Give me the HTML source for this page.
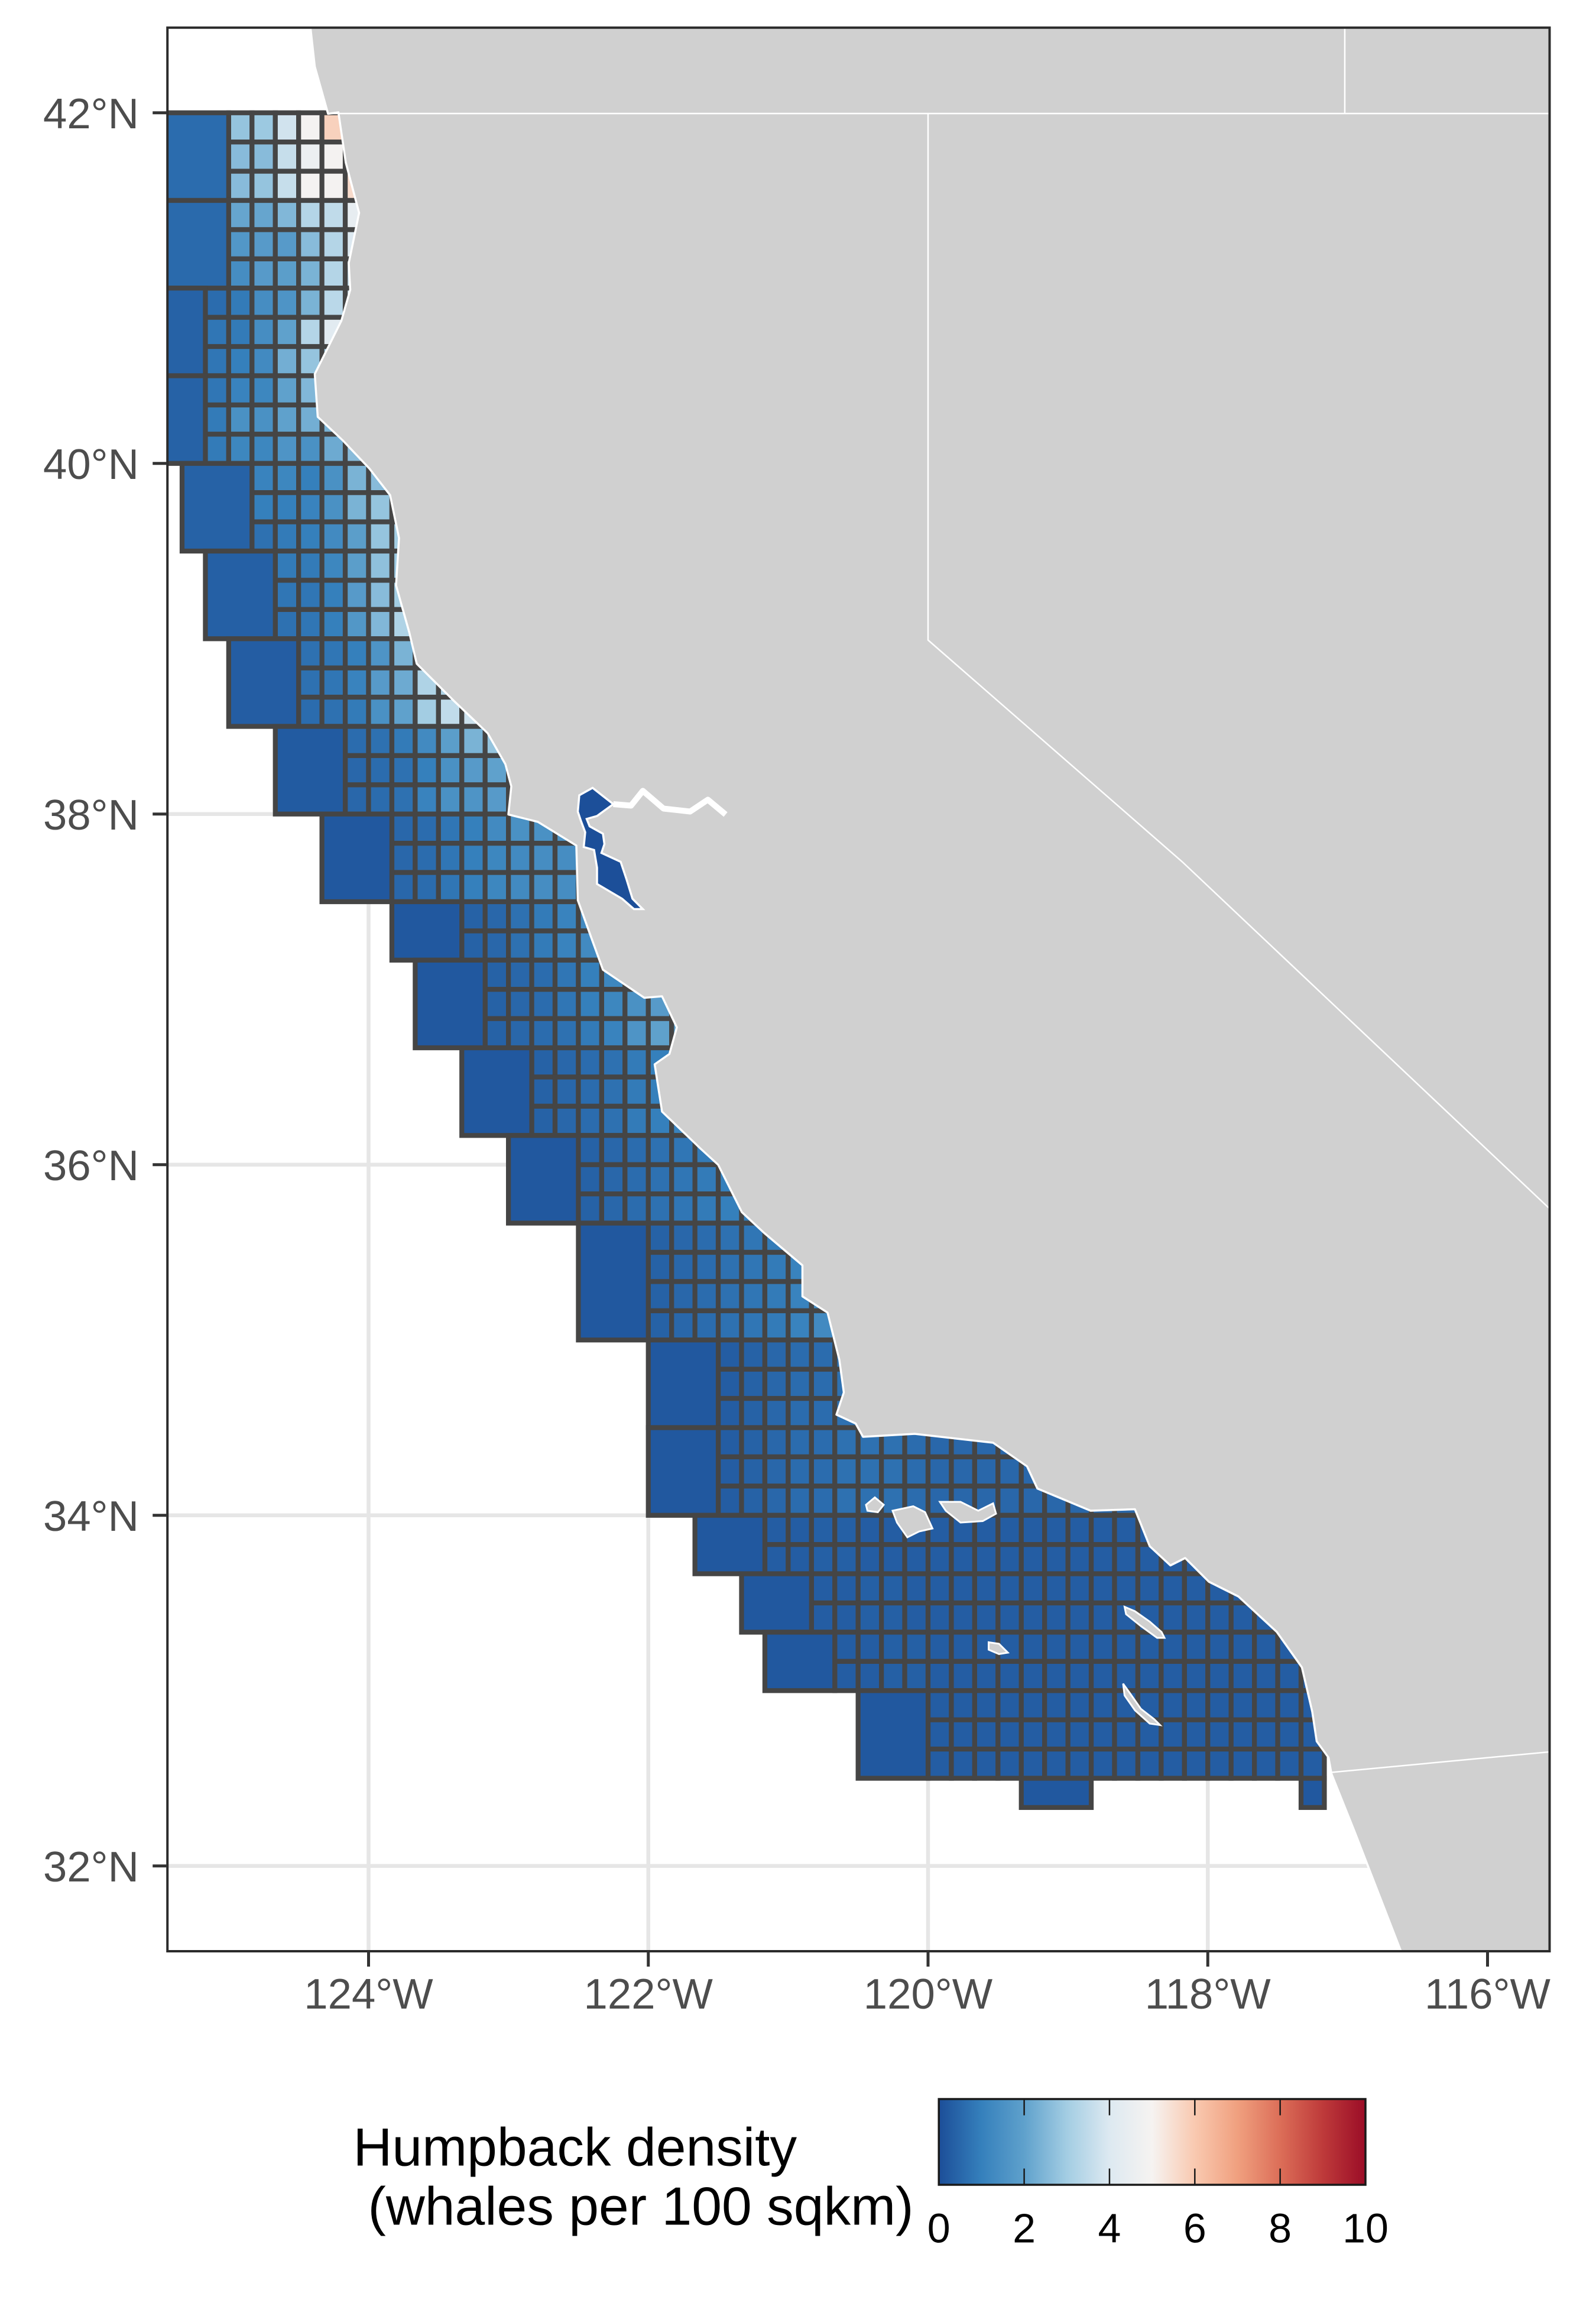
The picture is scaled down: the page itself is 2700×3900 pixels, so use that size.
<!DOCTYPE html>
<html><head><meta charset="utf-8">
<style>
html,body{margin:0;padding:0;background:#fff;}
svg{display:block;}
text{font-family:"Liberation Sans",Arial,sans-serif;}
</style></head>
<body>
<svg id="chart" xmlns="http://www.w3.org/2000/svg" width="2700" height="3900" viewBox="0 0 1080 1560">
<defs>
<clipPath id="panelClip"><rect x="113.3" y="18.7" width="935.3" height="1301.3"/></clipPath>
<linearGradient id="cbGrad" x1="0" x2="1" y1="0" y2="0">
<stop offset="0" stop-color="#1c4e98"/><stop offset="0.1" stop-color="#3580bc"/><stop offset="0.2" stop-color="#5fa1cc"/>
<stop offset="0.3" stop-color="#a3cde3"/><stop offset="0.4" stop-color="#dde9f1"/><stop offset="0.5" stop-color="#f6f3f1"/>
<stop offset="0.6" stop-color="#f9c9b0"/><stop offset="0.7" stop-color="#f0a07f"/><stop offset="0.8" stop-color="#dc6e58"/>
<stop offset="0.9" stop-color="#be3a3a"/><stop offset="1" stop-color="#9b0d27"/>
</linearGradient>
</defs>
<g id="grid" clip-path="url(#panelClip)"></g>
<g id="cells" clip-path="url(#panelClip)"></g>
<g id="land" clip-path="url(#panelClip)"></g>
<rect x="113.3" y="18.7" width="935.3" height="1301.3" fill="none" stroke="#2b2b2b" stroke-width="1.6"/>
<g id="axes"></g>
<g id="legend">
<text x="239" y="1465" font-size="36.5" fill="#000">Humpback density</text>
<text x="249" y="1505" font-size="36.5" fill="#000">(whales per 100 sqkm)</text>
<rect x="635.3" y="1420" width="288.7" height="58" fill="url(#cbGrad)" stroke="#1a1a1a" stroke-width="1.4"/>
</g>
</svg>
<script>
// ---- data ----
const lonTicks = [-124, -122, -120, -118, -116];
const latTicks = [32, 34, 36, 38, 40, 42];
const legendTicks = [0, 2, 4, 6, 8, 10];
// coarse (0.5 deg) cells: grid col, grid row, width, height (in 1/6 deg units), density
const bigCol = [-3,-3,-4,-4,-2,-1,0,2,4,7,8,10,12,15,18,18,20,22,23,27,34,46];
const bigRow = [0,3,6,9,12,15,18,21,24,27,29,32,35,38,42,45,48,50,52,54,57,57];
const bigW   = [3,3,3,3,3,3,3,3,3,3,3,3,3,3,3,3,3,3,3,3,3,1];
const bigH   = [3,3,3,3,3,3,3,3,3,2,3,3,3,4,3,3,2,2,2,3,1,1];
const bigVal = [0.6,0.55,0.4,0.4,0.4,0.35,0.3,0.25,0.2,0.2,0.2,0.2,0.2,0.2,0.2,0.2,0.2,0.2,0.2,0.2,0.2,0.2];
// fine (1/6 deg) rows: first column of each row and densities from that column eastward
const rowStart = [0,0,0,0,0,0,-1,-1,-1,-1,-1,-1,1,1,1,2,2,2,3,3,3,5,5,5,7,7,7,10,10,11,11,11,13,13,13,15,15,15,18,18,18,18,21,21,21,21,21,21,23,23,25,25,26,26,30,30,30];
const rowVals = [
 [2.8,2.9,3.8,4.9,5.8,5.8],[2.6,2.6,3.6,4.6,4.9,5.5],[2.6,2.8,3.6,4.9,4.9,5.6],
 [2.1,2.1,2.5,3.3,3.5,4.4],[1.7,1.8,1.8,2.6,3.3,4.0],[1.4,1.8,1.9,2.4,3.3,3.6],
 [0.6,0.9,1.4,1.6,2.4,3.4,3.8],[0.8,0.9,1.4,2.0,3.3,4.2],[0.8,1.0,1.3,2.3,2.8,3.0],
 [0.8,1.1,1.2,2.0,2.5,2.6],[0.9,1.5,1.5,2.0,2.3,2.4],[0.9,1.2,1.2,1.6,1.5,2.2,2.6],
 [1.1,1.2,1.0,1.5,2.4,2.6],[1.0,1.0,1.1,1.5,2.4,2.8,3.1],[0.7,0.9,1.0,1.3,1.9,2.8,3.0],
 [0.9,0.9,1.2,1.9,2.7,2.9],[0.8,0.8,1.0,1.8,2.6,3.0],[0.7,0.8,1.0,1.7,2.5,3.2],
 [0.7,0.8,1.0,1.6,2.4,3.3],[0.7,0.8,1.1,1.8,2.2,3.2],[0.6,0.7,0.9,1.5,2.0,3.0,3.5,3.7],
 [0.6,0.7,0.9,1.3,1.9,2.4,2.8,2.8],[0.5,0.6,0.7,1.0,1.5,1.8,2.0,2.3],[0.5,0.6,0.7,1.1,1.5,1.6,1.8,2.2],
 [0.5,0.6,0.8,1.0,1.3,1.5,1.5,1.6,1.6],[0.5,0.6,0.8,1.0,1.2,1.3,1.4,1.4],[0.5,0.6,0.8,1.0,1.2,1.3,1.4,1.4],
 [0.4,0.5,0.7,0.9,1.1,1.3,1.5],[0.4,0.5,0.7,0.9,1.1,1.3,1.4],
 [0.4,0.5,0.6,0.8,1.0,1.2,1.4,1.5],[0.4,0.5,0.6,0.8,1.0,1.2,1.5,1.8],[0.4,0.5,0.6,0.7,0.9,1.1,1.6,2.0],
 [0.4,0.5,0.6,0.7,0.9,1.0,1.1,1.2],[0.4,0.5,0.6,0.7,0.9,1.0,1.1,1.2],[0.4,0.5,0.6,0.7,0.9,1.0,1.1,1.2],
 [0.4,0.5,0.6,0.7,0.8,0.9,1.0,1.0],[0.4,0.5,0.6,0.7,0.8,0.9,1.0,1.0],[0.4,0.5,0.6,0.7,0.8,0.9,1.0,1.0],
 [0.4,0.5,0.6,0.7,0.8,0.9,1.1,1.3,1.6],[0.4,0.5,0.6,0.7,0.8,0.9,1.1,1.3,1.6],[0.4,0.5,0.6,0.7,0.8,0.9,1.1,1.3,1.6],[0.4,0.5,0.6,0.7,0.8,0.9,1.1,1.3,1.6],
 [0.3,0.4,0.5,0.6,0.6,0.7,0.7,0.7,0.6,0.5],[0.3,0.4,0.5,0.6,0.6,0.7,0.7,0.7,0.6,0.5],[0.3,0.4,0.5,0.6,0.6,0.7,0.7,0.7,0.6,0.5],
 [0.3,0.4,0.5,0.6,0.6,0.7,0.7,0.7,0.6,0.5],[0.3,0.4,0.5,0.6,0.6,0.7,0.7,0.7,0.6,0.5],[0.3,0.4,0.5,0.6,0.6,0.7,0.7,0.7,0.6,0.5],
 [0.3,0.3,0.35,0.35,0.3],[0.3,0.3,0.35,0.35,0.3],[0.3,0.3,0.35,0.35,0.3],[0.3,0.3,0.35,0.35,0.3],
 [0.3,0.3,0.35,0.35,0.3],[0.3,0.3,0.35,0.35,0.3],[0.3,0.3,0.3,0.3,0.3],[0.3,0.3,0.3,0.3,0.3],[0.3,0.3,0.3,0.3,0.3]
];
const rowEnd = 47;
// basemap traces (screen units of the 1080x1560 view)
const coastPx = [[210,18],[213,45],[222,77],[229,76],[234,110],[243,144],[236,178],[237,196],[231,217],[213,253],[215,282],[232,298],[250,317],[264,335],[270,364],[268,396],[277,428],[282,449],[307,474],[330,496],[342,517],[346,532],[344,551],[364,556],[390,572],[391,609],[400,634],[408,656],[436,675],[448,674],[458,695],[453,713],[443,720],[448,752],[474,777],[486,788],[502,820],[517,834],[543,856],[543,877],[560,888],[568,920],[571,942],[566,957],[579,963],[584,972],[619,970],[672,976],[695,992],[702,1007],[738,1022],[768,1021],[778,1046],[792,1059],[802,1054],[818,1070],[838,1080],[864,1104],[881,1128],[888,1158],[891,1178],[899,1189],[901,1200],[917,1240],[948,1320],[1060,1320],[1060,10],[205,10]];
const bayPx = [[392,538],[401,533],[415,544],[404,552],[397,554],[399,559],[408,564],[409,571],[407,577],[420,583],[424,595],[428,608],[435,615],[429,615],[421,608],[404,598],[404,587],[402,575],[395,573],[396,563],[393,555],[391,549]];
const deltaPx = [[415,544],[427,545],[435,535],[449,547],[467,549],[479,541],[491,551]];
const islandsPx = [
 [[586,1018],[592,1013],[598,1018],[594,1023],[587,1022]],
 [[604,1022],[618,1019],[626,1023],[631,1034],[622,1036],[614,1040],[607,1030]],
 [[636,1016],[650,1016],[662,1022],[672,1017],[674,1024],[665,1029],[650,1030],[640,1022]],
 [[761,1087],[768,1090],[778,1097],[786,1104],[788,1108],[783,1108],[772,1100],[762,1092]],
 [[669,1111],[676,1112],[682,1118],[676,1119],[669,1116]],
 [[760,1139],[765,1146],[772,1156],[781,1163],[785,1167],[778,1166],[768,1157],[761,1147]]
];
const stateLinesPx = [
 [[222,76.8],[1050,76.8]],
 [[910,18],[910,76.8]],
 [[628,76.8],[628,433],[800,583],[1050,819]],
 [[901,1199],[1050,1185]]
];
// ---- scales ----
function xLon(lon){ return 249.4 + (lon + 124) * 94.65; }
function yLat(lat){ return 76.3 + (42 - lat) * 118.6; }
function colLon(i){ return -125 + i / 6; }
function rowLat(j){ return 42 - j / 6; }
const cStops = [[0,[28,78,152]],[1,[53,128,188]],[2,[95,161,204]],[3,[163,205,227]],[4,[221,233,241]],[5,[246,243,241]],[6,[249,201,176]],[7,[240,160,127]],[8,[220,110,88]],[9,[190,58,58]],[10,[155,13,39]]];
function color(v){
  v = Math.max(0, Math.min(10, v));
  for (let k = 0; k < cStops.length - 1; k++){
    const a = cStops[k], b = cStops[k+1];
    if (v <= b[0]){
      const t = (v - a[0]) / (b[0] - a[0]);
      const c = a[1].map((x, n) => Math.round(x + (b[1][n] - x) * t));
      return 'rgb(' + c.join(',') + ')';
    }
  }
  return 'rgb(155,13,39)';
}
const NS = 'http://www.w3.org/2000/svg';
function mk(tag, attrs, parent){
  const e = document.createElementNS(NS, tag);
  for (const k in attrs) e.setAttribute(k, attrs[k]);
  parent.appendChild(e);
  return e;
}
function pts(a){ return a.map(p => p[0] + ',' + p[1]).join(' '); }

// gridlines
const gG = document.getElementById('grid');
lonTicks.forEach(lon => {
  const l = mk('line', {x1: xLon(lon), x2: xLon(lon), y1: 18.7, y2: 1320, stroke: '#e6e6e6', 'stroke-width': 2.6}, gG);
  
  
});
latTicks.forEach(lat => {
  const l = mk('line', {x1: 113.3, x2: 1048.6, y1: yLat(lat), y2: yLat(lat), stroke: '#e6e6e6', 'stroke-width': 2.6}, gG);
  
  
});

// cells
const cG = document.getElementById('cells');
const cellStroke = {stroke: '#454545', 'stroke-width': 3.3};
rowStart.forEach((s, j) => {
  const vals = rowVals[j];
  for (let i = s; i < rowEnd; i++){
    const v = vals[Math.min(i - s, vals.length - 1)];
    const x0 = xLon(colLon(i)), x1 = xLon(colLon(i + 1));
    const y0 = yLat(rowLat(j)), y1 = yLat(rowLat(j + 1));
    const r = mk('rect', Object.assign({x: x0, y: y0, width: x1 - x0, height: y1 - y0, fill: color(v)}, cellStroke), cG);
    
    
  }
});
bigCol.forEach((c, k) => {
  const x0 = xLon(colLon(c)), x1 = xLon(colLon(c + bigW[k]));
  const y0 = yLat(rowLat(bigRow[k])), y1 = yLat(rowLat(bigRow[k] + bigH[k]));
  const r = mk('rect', Object.assign({x: x0, y: y0, width: x1 - x0, height: y1 - y0, fill: color(bigVal[k])}, cellStroke), cG);
  
  
});

// land & basemap
const lG = document.getElementById('land');
const landEl = mk('polygon', {points: pts(coastPx), fill: '#d0d0d0', stroke: '#ffffff', 'stroke-width': 1.4, 'stroke-linejoin': 'round'}, lG);


const bayEl = mk('polygon', {points: pts(bayPx), fill: '#1c4f99', stroke: '#ffffff', 'stroke-width': 1.4}, lG);


const deltaEl = mk('polyline', {points: pts(deltaPx), fill: 'none', stroke: '#ffffff', 'stroke-width': 4, 'stroke-linejoin': 'round'}, lG);


islandsPx.forEach(isl => {
  const e = mk('polygon', {points: pts(isl), fill: '#d0d0d0', stroke: '#ffffff', 'stroke-width': 1.2}, lG);
  
  
});
stateLinesPx.forEach(ln => {
  const e = mk('polyline', {points: pts(ln), fill: 'none', stroke: '#ffffff', 'stroke-width': 1}, lG);
  
  
});

// axes
const aG = document.getElementById('axes');
latTicks.forEach(lat => {
  const t = mk('line', {x1: 103.3, x2: 113.3, y1: yLat(lat), y2: yLat(lat), stroke: '#333', 'stroke-width': 2}, aG);
  
  
  const tx = mk('text', {x: 94, y: yLat(lat) + 10.4, 'text-anchor': 'end', 'font-size': 29, fill: '#4d4d4d'}, aG);
  tx.textContent = lat + '°N';
  
  
});
lonTicks.forEach(lon => {
  const t = mk('line', {x1: xLon(lon), x2: xLon(lon), y1: 1320, y2: 1330.4, stroke: '#333', 'stroke-width': 2}, aG);
  
  
  const tx = mk('text', {x: xLon(lon), y: 1358.8, 'text-anchor': 'middle', 'font-size': 29, fill: '#4d4d4d'}, aG);
  tx.textContent = (-lon) + '°W';
  
  
});

// legend ticks
const lgG = document.getElementById('legend');
function xLeg(v){ return 635.3 + v / 10 * 288.7; }
legendTicks.forEach(v => {
  if (v > 0 && v < 10){
    const a = mk('line', {x1: xLeg(v), x2: xLeg(v), y1: 1420, y2: 1431, stroke: '#1a1a1a', 'stroke-width': 1}, lgG);
    
    
    const b = mk('line', {x1: xLeg(v), x2: xLeg(v), y1: 1467, y2: 1478, stroke: '#1a1a1a', 'stroke-width': 1}, lgG);
    
    
  }
  const tx = mk('text', {x: xLeg(v), y: 1517, 'text-anchor': 'middle', 'font-size': 28, fill: '#000'}, lgG);
  tx.textContent = v;
  
  
});
</script>
</body></html>
